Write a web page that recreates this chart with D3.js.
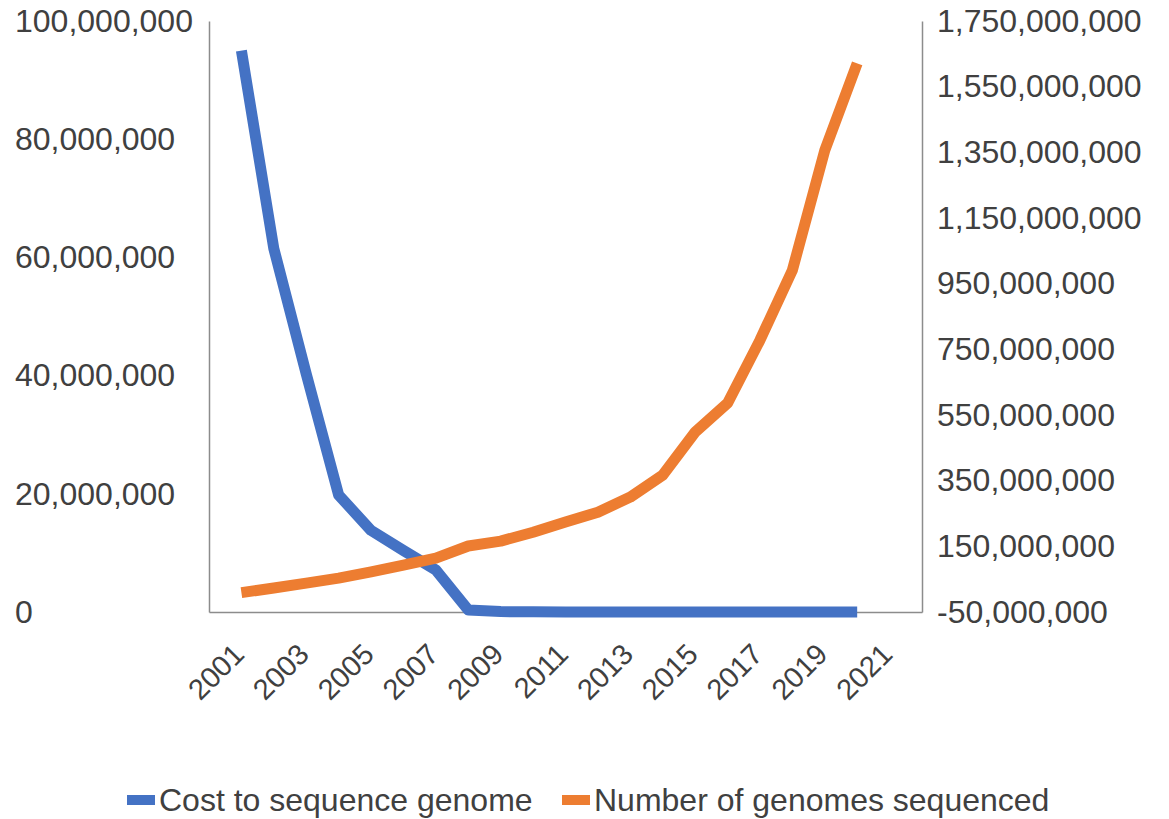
<!DOCTYPE html>
<html>
<head>
<meta charset="utf-8">
<script src="https://cdn.jsdelivr.net/npm/d3@7"></script>
<style>
  html, body { margin: 0; padding: 0; background: #ffffff; }
  svg { display: block; }
  text { font-family: "Liberation Sans", Arial, sans-serif; fill: #404040; }
</style>
</head>
<body>
<svg id="chart" width="1169" height="819"></svg>
<script>
// Years plotted (2001–2020) and series values
const years = [2001, 2002, 2003, 2004, 2005, 2006, 2007, 2008, 2009, 2010,
               2011, 2012, 2013, 2014, 2015, 2016, 2017, 2018, 2019, 2020];

// Cost to sequence a human genome (USD)
const costValues = [95000000, 61500000, 40300000, 19800000, 13800000, 10400000,
                    7100000, 340000, 70000, 30000, 10000, 7700, 5800, 5000,
                    1400, 1200, 1100, 1000, 900, 700];

// Number of genomes sequenced
const genomeValues = [9000000, 23000000, 38000000, 53000000, 72000000, 93000000,
                      114000000, 151000000, 166000000, 193000000, 224000000,
                      254000000, 300000000, 367000000, 498000000, 586000000,
                      778000000, 991000000, 1356000000, 1621000000];

// Axis ticks
const yearTicks = [2001, 2003, 2005, 2007, 2009, 2011, 2013, 2015, 2017, 2019, 2021];
const leftTicks = [0, 20000000, 40000000, 60000000, 80000000, 100000000];
const rightTicks = [-50000000, 150000000, 350000000, 550000000, 750000000,
                    950000000, 1150000000, 1350000000, 1550000000, 1750000000];

const seriesNames = ["Cost to sequence genome", "Number of genomes sequenced"];
const seriesColors = ["#4472C4", "#ED7D31"];

const svg = d3.select("#chart");
const plot = { left: 209, right: 922, top: 21, bottom: 612 };

const x = d3.scaleLinear().domain([2000, 2022]).range([plot.left, plot.right]);
const yLeft = d3.scaleLinear().domain([0, 100000000]).range([plot.bottom, plot.top]);
const yRight = d3.scaleLinear().domain([-50000000, 1750000000]).range([plot.bottom, plot.top]);

// Thousands separators with a plain hyphen for negatives
const comma = d3.format(",");
const fmt = v => comma(v).replace("\u2212", "-");
const axisColor = "#8c8c8c";
const labelSize = "32px";

// Left axis: labels left-aligned at the page margin
const gL = svg.append("g").attr("transform", `translate(${plot.left},0)`)
  .call(d3.axisLeft(yLeft).tickValues(leftTicks).tickSize(0).tickFormat(fmt));
gL.select(".domain").attr("stroke", axisColor).attr("stroke-width", 1.5);
gL.selectAll(".tick text")
  .attr("x", 15 - plot.left).attr("text-anchor", "start")
  .style("font-size", labelSize).attr("fill", "#404040");

// Right axis
const gR = svg.append("g").attr("transform", `translate(${plot.right},0)`)
  .call(d3.axisRight(yRight).tickValues(rightTicks).tickSize(0).tickFormat(fmt));
gR.select(".domain").attr("stroke", axisColor).attr("stroke-width", 1.5);
gR.selectAll(".tick text")
  .attr("x", 15).attr("text-anchor", "start")
  .style("font-size", labelSize).attr("fill", "#404040");

// Bottom axis with rotated year labels
const gB = svg.append("g").attr("transform", `translate(0,${plot.bottom})`)
  .call(d3.axisBottom(x).tickValues(yearTicks).tickSize(0).tickFormat(d3.format("d")));
gB.select(".domain").attr("stroke", axisColor).attr("stroke-width", 1.5);
gB.selectAll(".tick text")
  .attr("x", 0).attr("y", 0).attr("dy", 0)
  .attr("text-anchor", "end")
  .attr("transform", "translate(4,44) rotate(-45)")
  .style("font-size", "29px").attr("fill", "#404040");

svg.selectAll(".domain").attr("fill", "none");

// Series lines
const lineCost = d3.line().x((d, i) => x(years[i])).y(d => yLeft(d));
const lineGenomes = d3.line().x((d, i) => x(years[i])).y(d => yRight(d));

svg.append("path")
  .datum(costValues)
  .attr("d", lineCost)
  .attr("fill", "none")
  .attr("stroke", seriesColors[0])
  .attr("stroke-width", 11)
  .attr("stroke-linejoin", "round")
  .attr("stroke-linecap", "butt");

svg.append("path")
  .datum(genomeValues)
  .attr("d", lineGenomes)
  .attr("fill", "none")
  .attr("stroke", seriesColors[1])
  .attr("stroke-width", 11)
  .attr("stroke-linejoin", "round")
  .attr("stroke-linecap", "butt");

// Legend
const legendItems = [
  { name: seriesNames[0], color: seriesColors[0], x: 127 },
  { name: seriesNames[1], color: seriesColors[1], x: 562 }
];
const lg = svg.append("g");
legendItems.forEach(item => {
  lg.append("rect")
    .attr("x", item.x).attr("y", 795)
    .attr("width", 28).attr("height", 10)
    .attr("fill", item.color);
  lg.append("text")
    .attr("x", item.x + 32).attr("y", 811)
    .style("font-size", labelSize)
    .attr("fill", "#404040")
    .text(item.name);
});
</script>
</body>
</html>
